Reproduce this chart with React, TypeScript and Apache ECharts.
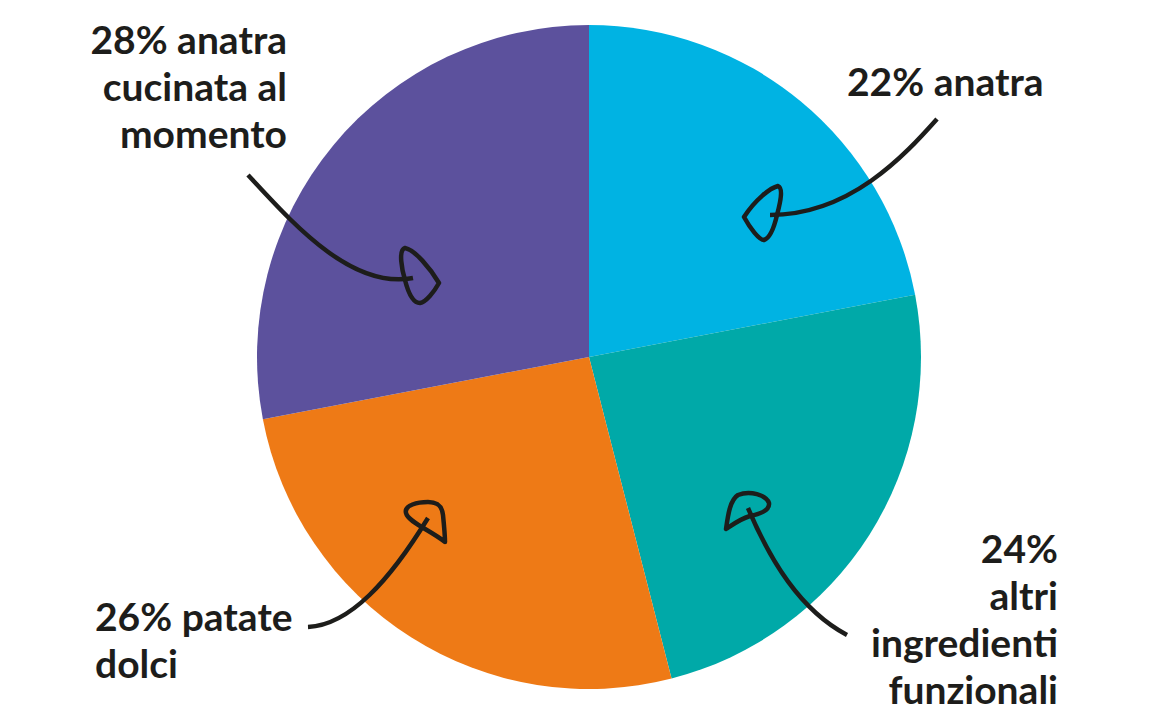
import React, { useEffect, useRef } from "react";
import * as echarts from "echarts";

const categories = [
  "anatra",
  "altri ingredienti funzionali",
  "patate dolci",
  "anatra cucinata al momento",
];
const values = [22, 24, 26, 28];
const colors = ["#00B3E3", "#00A9A8", "#EE7A16", "#5C519D"];
const labelTexts = [
  "22% anatra",
  "24%\naltri\ningredienti\nfunzionali",
  "26% patate\ndolci",
  "28% anatra\ncucinata al\nmomento",
];

const arrowLines = [
  "M937 119 C905 155 850 215 770 215",
  "M847 635 C800 610 770 560 748 508",
  "M308 627 C350 625 390 580 428 518",
  "M248 175 C290 220 350 290 413 278",
];
const arrowHeads = [
  "M744 217 C755 200 770 188 778 186 C783 188 781 200 777 215 C774 228 770 238 764 240 C759 240 750 228 744 217 Z",
  "M726 529 C728 515 730 500 738 495 C750 490 766 495 769 503 C770 510 760 514 750 516 C740 519 732 525 726 529 Z",
  "M445 542 C430 530 408 522 406 513 C404 505 418 502 428 502 C438 502 442 506 443 515 C444 525 445 535 445 542 Z",
  "M439 283 C430 268 415 250 405 248 C398 250 402 270 405 280 C408 292 413 303 420 303 C426 302 434 292 439 283 Z",
];

let registered = false;
function registerShapes() {
  if (registered) return;
  registered = true;
  arrowLines.forEach((d, i) => {
    echarts.graphic.registerShape("arrowLine" + i, echarts.graphic.extendPath(d, {}));
  });
  arrowHeads.forEach((d, i) => {
    echarts.graphic.registerShape("arrowHead" + i, echarts.graphic.extendPath(d, {}));
  });
}

export default function App() {
  const ref = useRef<HTMLDivElement>(null);
  useEffect(() => {
    document.body.style.margin = "0";
    registerShapes();
    const chart = echarts.init(ref.current!, null, { renderer: "svg" });
    const font = "bold 39px Lato";
    const textColor = "#1d1d1b";
    const labelPos = [
      { x: 847, y: 57, align: "left" },
      { x: 1058, y: 524, align: "right" },
      { x: 95, y: 592, align: "left" },
      { x: 287, y: 15, align: "right" },
    ];
    const graphics: any[] = [];
    labelTexts.forEach((t, i) => {
      graphics.push({
        type: "text",
        x: labelPos[i].x,
        y: labelPos[i].y,
        z: 100,
        style: {
          text: t,
          font,
          fill: textColor,
          textAlign: labelPos[i].align,
          textVerticalAlign: "top",
          lineHeight: 47,
        },
      });
    });
    arrowLines.forEach((_, i) => {
      graphics.push({
        type: "arrowLine" + i,
        x: 0,
        y: 0,
        z: 100,
        style: { fill: "none", stroke: textColor, lineWidth: 4.5, lineCap: "butt" },
      });
      graphics.push({
        type: "arrowHead" + i,
        x: 0,
        y: 0,
        z: 100,
        style: { fill: "none", stroke: textColor, lineWidth: 4.5, lineJoin: "round" },
      });
    });
    chart.setOption({
      animation: false,
      backgroundColor: "#ffffff",
      series: [
        {
          type: "pie",
          center: [589, 357],
          radius: 332,
          startAngle: 90,
          clockwise: true,
          z: 1,
          label: { show: false },
          labelLine: { show: false },
          emphasis: { disabled: true },
          itemStyle: { borderWidth: 0 },
          data: categories.map((c, i) => ({
            name: c,
            value: values[i],
            itemStyle: { color: colors[i] },
          })),
        },
      ],
      graphic: graphics,
    });
    return () => chart.dispose();
  }, []);
  return <div ref={ref} style={{ width: 1150, height: 725 }} />;
}
